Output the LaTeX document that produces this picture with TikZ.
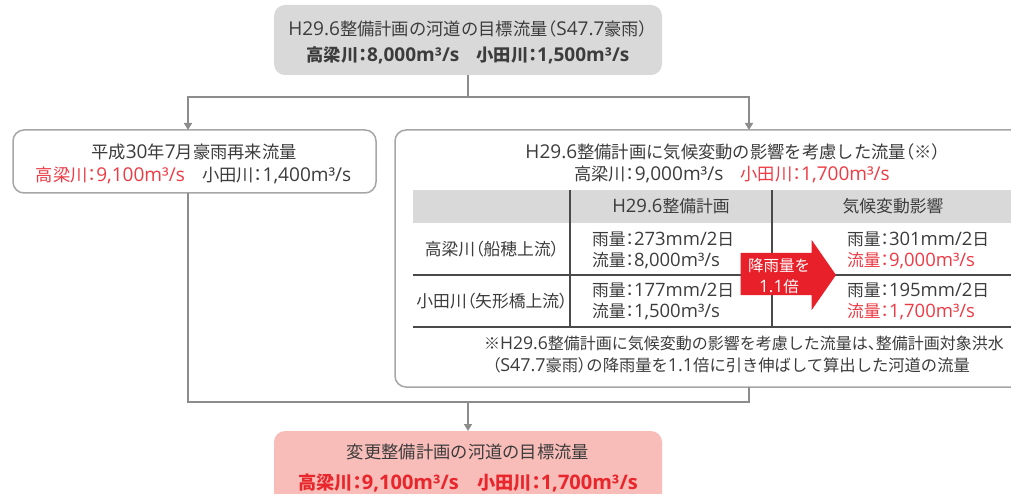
\documentclass[tikz,border=0pt]{standalone}
\usepackage{fontspec}
\setmainfont{Noto Sans CJK JP}
\newfontfamily\latinfont{Open Sans}[Scale=1.1]
\newfontfamily\paltfont{Noto Sans CJK JP}[RawFeature=+palt]
\newcommand\ltn[1]{{\latinfont #1}}
\newcommand\jcolon{{\paltfont ：}}
\newcommand\jlp{{\paltfont （}}
\newcommand\jrp{{\paltfont ）}}
\newcommand\jcomma{{\paltfont 、}}
\usetikzlibrary{arrows.meta}
\definecolor{tg}{HTML}{3C3C3C}
\definecolor{rt}{HTML}{EE3A44}
\definecolor{rb}{HTML}{E8262B}
\definecolor{boxgray}{HTML}{D9D9D9}
\definecolor{bordergray}{HTML}{A6A6A6}
\definecolor{conngray}{HTML}{8C8C8C}
\definecolor{pinkfill}{HTML}{F8BDB9}
\definecolor{arrowred}{HTML}{E8202A}
\definecolor{linedark}{HTML}{4A4A4A}
\tikzset{
  panel/.style={rectangle, rounded corners=11pt, draw=bordergray, line width=1.5pt, fill=white, outer sep=0pt, inner sep=0pt},
  graypanel/.style={rectangle, rounded corners=11pt, fill=boxgray, outer sep=0pt, inner sep=0pt},
  pinkpanel/.style={rectangle, rounded corners=11pt, fill=pinkfill, outer sep=0pt, inner sep=0pt},
  txt/.style={inner sep=0pt, outer sep=0pt, text=tg, font=\fontsize{17.3}{20}\selectfont},
  ttxt/.style={inner sep=0pt, outer sep=0pt, text=tg, font=\fontsize{16.8}{19}\selectfont},
  ftxt/.style={inner sep=0pt, outer sep=0pt, text=tg, font=\fontsize{16.3}{19}\selectfont},
  boldtxt/.style={inner sep=0pt, outer sep=0pt, text=tg, font=\fontsize{17.3}{20}\selectfont\bfseries},
  conn/.style={draw=conngray, line width=1.5pt, -{Triangle[width=8pt,length=7pt]}},
  plainconn/.style={draw=conngray, line width=1.5pt},
  tline/.style={draw=linedark, line width=1.3pt},
}
\begin{document}
\begin{tikzpicture}[x=1pt,y=-1pt]
\useasboundingbox (0,0) rectangle (1011,494);
\clip (0,0) rectangle (1011,494);

% boxes
\node[graypanel, minimum width=388pt, minimum height=70pt] (top) at (468,40) {};
\node[panel, minimum width=363pt, minimum height=63pt] (left) at (194.5,161.5) {};
\node[panel, minimum width=676pt, minimum height=257pt] (rbox) at (733,258.5) {};
\node[pinkpanel, minimum width=388pt, minimum height=90pt] (bot) at (468,476) {};

% top box text
\node[txt] (t1) at (468,29) {\ltn{H29.6}整備計画の河道の目標流量\jlp\ltn{S47.7}豪雨\jrp};
\node[boldtxt] (t2) at (468,55) {高梁川\jcolon\ltn{8,000m³/s}\hspace{1em}小田川\jcolon\ltn{1,500m³/s}};

% left box text
\node[txt] (l1) at (194,152) {平成\ltn{30}年\ltn{7}月豪雨再来流量};
\node[txt] (l2) at (193.5,175) {\textcolor{rt}{高梁川\jcolon\ltn{9,100m³/s}}\hspace{1em}小田川\jcolon\ltn{1,400m³/s}};

% right box text
\node[txt] (r1) at (733,152) {\ltn{H29.6}整備計画に気候変動の影響を考慮した流量\jlp ※\jrp};
\node[txt] (r2) at (732,174) {高梁川\jcolon\ltn{9,000m³/s}\hspace{1em}\textcolor{rt}{小田川\jcolon\ltn{1,700m³/s}}};

% table
\fill[boxgray] (413,190) rectangle (1053,223);
\draw[tline] (570,190) -- (570,327);
\draw[tline] (772,190) -- (772,327);
\draw[tline] (413,275) -- (1053,275);
\draw[tline] (413,327) -- (1053,327);

\node[ttxt] (h1) at (671,206) {\ltn{H29.6}整備計画};
\node[ttxt] (h2) at (893,206) {気候変動影響};
\node[ttxt] (rl1) at (492,249) {高梁川\jlp 船穂上流\jrp};
\node[ttxt] (rl2) at (492,301) {小田川\jlp 矢形橋上流\jrp};

\node[ttxt, anchor=west] (a1) at (592,239) {雨量\jcolon\ltn{273mm/2}日};
\node[ttxt, anchor=west] (a2) at (592,261) {流量\jcolon\ltn{8,000m³/s}};
\node[ttxt, anchor=west] (a3) at (592,290) {雨量\jcolon\ltn{177mm/2}日};
\node[ttxt, anchor=west] (a4) at (592,312) {流量\jcolon\ltn{1,500m³/s}};

\node[ttxt, anchor=west] (b1) at (847,239) {雨量\jcolon\ltn{301mm/2}日};
\node[ttxt, anchor=west, text=rt] (b2) at (847,261) {流量\jcolon\ltn{9,000m³/s}};
\node[ttxt, anchor=west] (b3) at (847,290) {雨量\jcolon\ltn{195mm/2}日};
\node[ttxt, anchor=west, text=rt] (b4) at (847,312) {流量\jcolon\ltn{1,700m³/s}};

% red arrow
\fill[arrowred] (740.7,253) -- (811.7,253) -- (811.7,240) -- (836,275) -- (811.7,310) -- (811.7,295) -- (740.7,295) -- cycle;
\node[inner sep=0pt, text=white, font=\fontsize{15.5}{21}\selectfont, align=center] (arrtxt) at (779,276) {降雨量を\\\ltn{1.1}倍};

% footnote
\node[ftxt, font=\fontsize{16}{19}\selectfont] (f1) at (744,343) {※\ltn{H29.6}整備計画に気候変動の影響を考慮した流量は\jcomma 整備計画対象洪水};
\node[ftxt] (f2) at (731,365) {\jlp\ltn{S47.7}豪雨\jrp の降雨量を\ltn{1.1}倍に引き伸ばして算出した河道の流量};

% bottom box text
\node[txt] (bt1) at (468,452) {変更整備計画の河道の目標流量};
\node[boldtxt, text=rb, font=\fontsize{18.2}{20}\selectfont\bfseries] (bt2) at (468,483) {高梁川\jcolon\ltn{9,100m³/s}\hspace{1em}小田川\jcolon\ltn{1,700m³/s}};

% connectors
\coordinate (split) at (468,97);
\coordinate (merge) at (468,402);
\draw[plainconn] (top.south) -- (split);
\draw[conn] (split) -| ([xshift=-6.5pt]left.north);
\draw[conn] (split) -| ([xshift=16pt]rbox.north);
\draw[plainconn] ([xshift=-6.5pt]left.south) |- (merge);
\draw[plainconn] ([xshift=16pt]rbox.south) |- (merge);
\draw[conn] (merge) -- (bot.north);
\end{tikzpicture}
\end{document}
